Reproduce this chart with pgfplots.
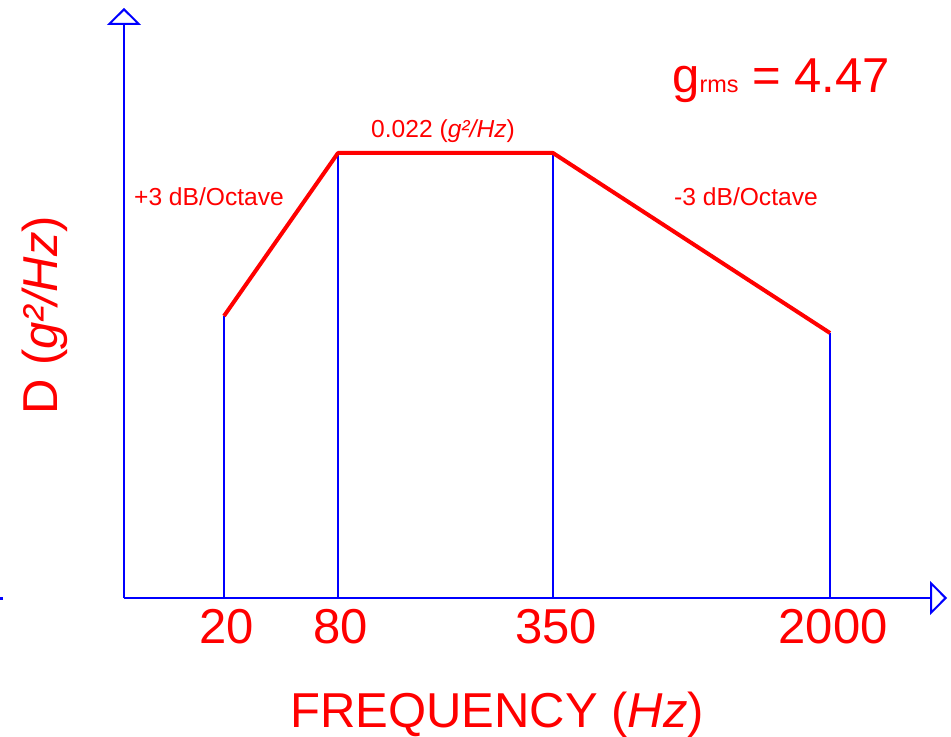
\documentclass[border=0pt]{standalone}
\usepackage{pgfplots}
\pgfplotsset{compat=1.18}
\usetikzlibrary{arrows.meta}
\usepackage{fontspec}
\setmainfont{Liberation Sans}

% one axis unit = one pixel of the reference, origin at the axis corner
\pgfplotstableread{
x   y
100 282
214 445
429 445
706 265
}\psd

\begin{document}
\begin{tikzpicture}
\begin{axis}[
    x=0.5pt, y=0.5pt,
    xmin=0, xmax=823, ymin=0, ymax=590,
    enlargelimits=false,
    clip=false,
    axis lines=left,
    axis line style={blue, line width=1pt, -{Triangle[open, width=17pt, length=8.5pt, line width=1pt]}},
    xtick={100,214,429,706},
    xticklabels={20,80,350,2000},
    ytick=\empty,
    major tick length=0pt,
    xticklabel style={red, font=\fontsize{24.5}{29}\selectfont, inner sep=0pt, anchor=north, yshift=-5.5pt, xshift=1.5pt},
    xlabel={FREQUENCY (\textit{Hz})},
    xlabel style={red, font=\fontsize{24.5}{29}\selectfont, inner sep=0pt, at={(axis cs:373,-129)}, anchor=base},
    ylabel={D (\textit{g²/Hz})},
    ylabel style={red, font=\fontsize{24.5}{29}\selectfont, inner sep=0pt, at={(axis cs:-67,282.5)}, anchor=base, rotate=0},
]
\addplot[blue, line width=0.8pt, ycomb, mark=none] table {\psd};
\addplot[red, line width=2pt, line join=round, mark=none] table {\psd};
% stray tick at the left edge of the reference
\addplot[blue, line width=1.5pt, mark=none] coordinates {(-124,0) (-121,0)};

\node[red, anchor=base west, inner sep=0pt] at (axis cs:548,505)
    {\fontsize{24.5}{29}\selectfont g{\fontsize{11.7}{14}\selectfont rms} = 4.47};
\node[red, anchor=base, inner sep=0pt, font=\fontsize{12.3}{15}\selectfont] at (axis cs:319,460) {0.022 (\textit{g²/Hz})};
\node[red, anchor=center, inner sep=0pt, font=\fontsize{12.3}{15}\selectfont] at (axis cs:85,401) {+3 dB/Octave};
\node[red, anchor=center, inner sep=0pt, font=\fontsize{12.3}{15}\selectfont] at (axis cs:622,401) {-3 dB/Octave};

\coordinate (bl) at (axis cs:-124,-139);
\coordinate (tr) at (axis cs:827,598);
\end{axis}
\pgfresetboundingbox
\useasboundingbox (bl) rectangle (tr);
\end{tikzpicture}
\end{document}
